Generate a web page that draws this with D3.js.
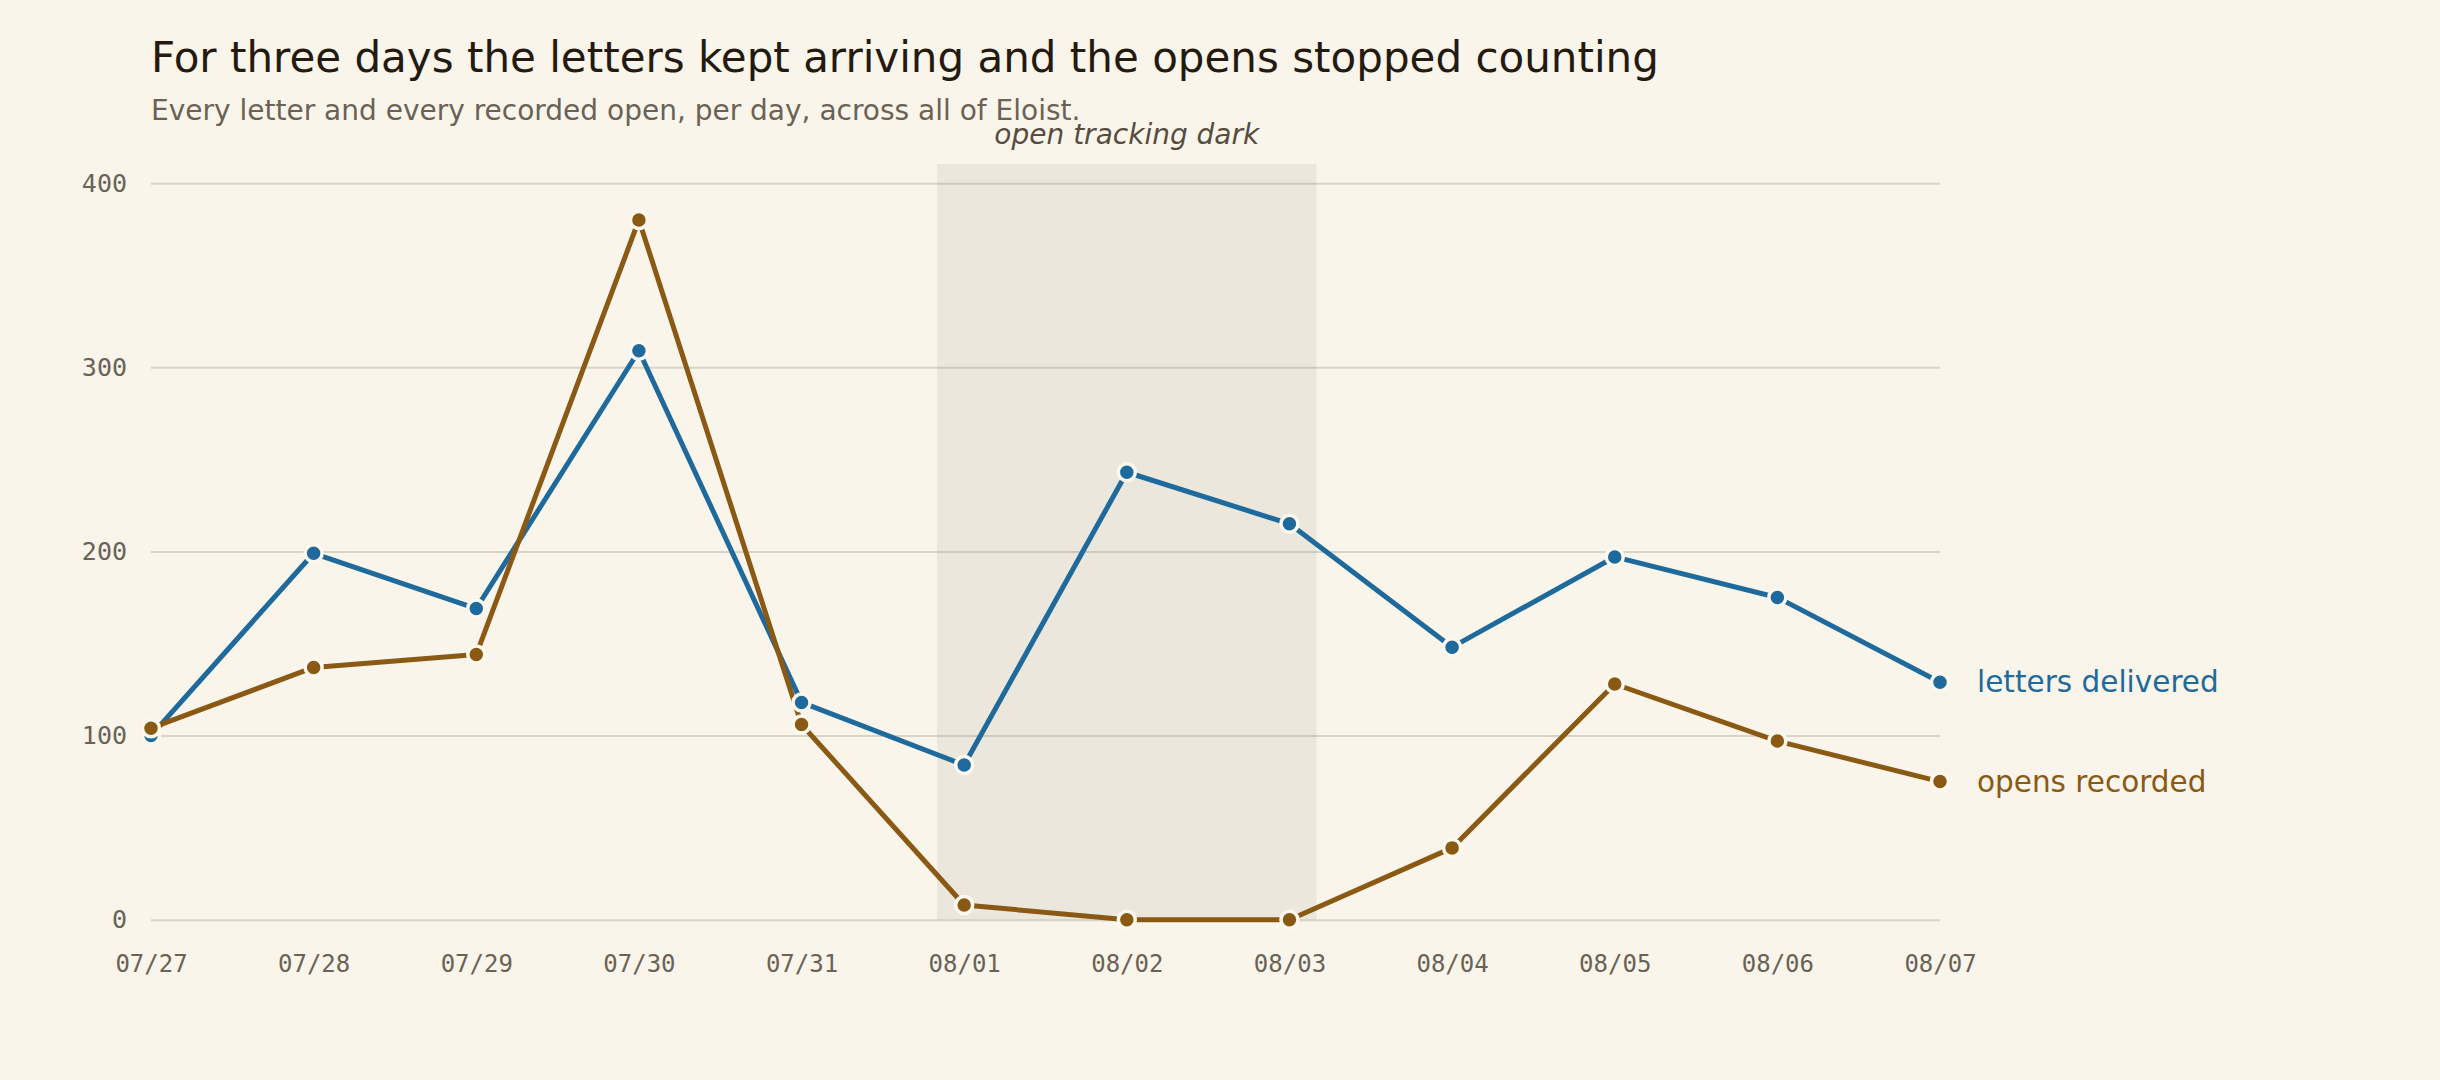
<!DOCTYPE html>
<html>
<head>
<meta charset="utf-8">
<script src="https://cdn.jsdelivr.net/npm/d3@7"></script>
<style>
	html, body { margin: 0; padding: 0; background: #f9f5ea; }
	svg { display: block; }
	.tick text { font-family: "DejaVu Sans Mono", monospace; }
</style>
</head>
<body>
<div id="chart"></div>
<script>
// daily values
const days = ['2024-07-27', '2024-07-28', '2024-07-29', '2024-07-30', '2024-07-31', '2024-08-01',
	'2024-08-02', '2024-08-03', '2024-08-04', '2024-08-05', '2024-08-06', '2024-08-07'];
const lettersDelivered = [100, 199, 169, 309, 118, 84, 243, 215, 148, 197, 175, 129];
const opensRecorded = [104, 137, 144, 380, 106, 8, 0, 0, 39, 128, 97, 75];
const seriesNames = ['letters delivered', 'opens recorded'];
const yTicks = [0, 100, 200, 300, 400];
const darkDays = ['2024-08-01', '2024-08-03']; // tracking outage, first and last day

const W = 2440, H = 1080;
const m = {top: 164, right: 500, bottom: 160.3, left: 151};
const colors = {
	bg: '#f9f5ea',
	letters: '#1f6a9c',
	opens: '#8a5a14',
	grid: '#d9d3c7',
	tick: '#6b6256'
};

const parse = d3.utcParse('%Y-%m-%d');
const dates = days.map(parse);

const series = [
	{name: seriesNames[0], color: colors.letters, values: dates.map((d, i) => ({date: d, v: lettersDelivered[i]}))},
	{name: seriesNames[1], color: colors.opens, values: dates.map((d, i) => ({date: d, v: opensRecorded[i]}))}
];

const svg = d3.select('#chart')
	.append('svg')
	.attr('width', W)
	.attr('height', H)
	.style('background', colors.bg);

const x = d3.scaleUtc()
	.domain(d3.extent(dates))
	.range([m.left, W - m.right]);

const yMax = d3.max(series, s => d3.max(s.values, d => d.v)) * 1.08;
const y = d3.scaleLinear()
	.domain([0, yMax])
	.range([H - m.bottom, m.top]);

// title + subtitle
svg.append('text')
	.attr('x', m.left)
	.attr('y', 72)
	.style('font-family', '"DejaVu Sans", sans-serif')
	.style('font-size', '42px')
	.style('fill', '#241a0f')
	.text('For three days the letters kept arriving and the opens stopped counting');

svg.append('text')
	.attr('x', m.left)
	.attr('y', 120)
	.style('font-family', '"DejaVu Sans", sans-serif')
	.style('font-size', '28px')
	.style('fill', '#6b6256')
	.text('Every letter and every recorded open, per day, across all of Eloist.');

// gridlines
svg.append('g')
	.attr('class', 'grid')
	.attr('transform', `translate(${x.range()[0]},0)`)
	.call(d3.axisLeft(y).tickValues(yTicks).tickSize(-(x.range()[1] - x.range()[0])).tickFormat(''))
	.call(g => g.select('.domain').remove())
	.call(g => g.selectAll('line').attr('stroke', colors.grid).attr('stroke-width', 2));

// shaded band for the dark days (padded by a few hours each side)
const bandX0 = x(d3.utcHour.offset(parse(darkDays[0]), -4)),
			bandX1 = x(d3.utcHour.offset(parse(darkDays[1]), 4));

svg.append('rect')
	.attr('x', bandX0)
	.attr('y', y(yMax))
	.attr('width', bandX1 - bandX0)
	.attr('height', y(0) - y(yMax))
	.attr('fill', '#000')
	.attr('fill-opacity', 0.053);

svg.append('text')
	.attr('x', (bandX0 + bandX1) / 2)
	.attr('y', 144)
	.attr('text-anchor', 'middle')
	.style('font-family', '"DejaVu Sans", sans-serif')
	.style('font-style', 'italic')
	.style('font-size', '28px')
	.style('fill', '#574c3f')
	.text('open tracking dark');

// y axis labels
svg.append('g')
	.attr('transform', `translate(${x.range()[0]},0)`)
	.call(d3.axisLeft(y).tickValues(yTicks).tickSize(0).tickPadding(24))
	.call(g => g.select('.domain').remove())
	.call(g => g.selectAll('text').style('font-size', '25px').attr('fill', colors.tick));

// x axis labels
svg.append('g')
	.attr('transform', `translate(0,${y(0)})`)
	.call(d3.axisBottom(x).tickValues(dates).tickFormat(d3.utcFormat('%m/%d')).tickSize(0).tickPadding(35))
	.call(g => g.select('.domain').remove())
	.call(g => g.selectAll('text').style('font-size', '24px').attr('fill', colors.tick));

const line = d3.line()
	.x(d => x(d.date))
	.y(d => y(d.v));

// lines first, then all the dots on top
svg.selectAll('.series_line')
	.data(series).enter()
	.append('path')
	.attr('class', 'series_line')
	.attr('d', s => line(s.values))
	.attr('fill', 'none')
	.attr('stroke', s => s.color)
	.attr('stroke-width', 5)
	.attr('stroke-linejoin', 'round');

svg.selectAll('.g_dots')
	.data(series).enter()
	.append('g')
	.attr('class', 'g_dots')
	.each(function(s) {
		d3.select(this)
			.selectAll('circle')
			.data(s.values).enter()
			.append('circle')
			.attr('cx', d => x(d.date))
			.attr('cy', d => y(d.v))
			.attr('r', 8.5)
			.attr('fill', s.color)
			.attr('stroke', '#fcf8ee')
			.attr('stroke-width', 3.5);
	});

// direct labels at the right end
svg.selectAll('.end_label')
	.data(series).enter()
	.append('text')
	.attr('class', 'end_label')
	.attr('x', s => x(s.values[s.values.length - 1].date) + 37)
	.attr('y', s => y(s.values[s.values.length - 1].v))
	.attr('dy', '0.35em')
	.style('font-family', '"DejaVu Sans", sans-serif')
	.style('font-size', '29.5px')
	.style('fill', s => s.color)
	.text(s => s.name);
</script>
</body>
</html>
